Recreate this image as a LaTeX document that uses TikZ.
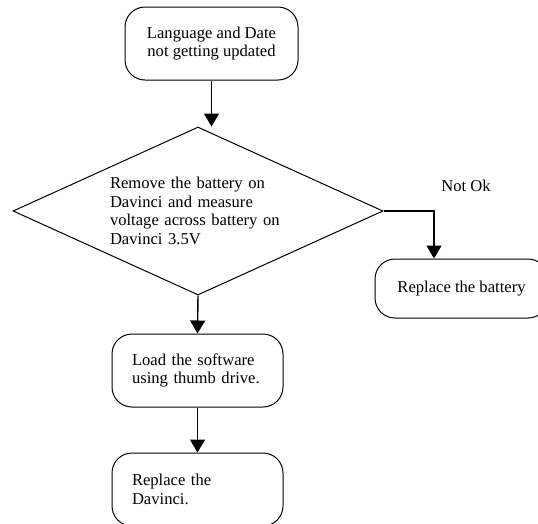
\documentclass[tikz,border=0pt]{standalone}
\usepackage{fontspec}
\setmainfont{Liberation Serif}
\usepackage{tikz}
\usetikzlibrary{arrows.meta,positioning,shapes.geometric}

\begin{document}
\begin{tikzpicture}[x=1pt,y=-1pt,font=\fontsize{16.6}{18.5}\selectfont,
  term/.style={draw,line width=1pt,rounded corners=20pt,inner sep=0pt},
  dia/.style={draw,line width=1pt,diamond,aspect=2.2,inner sep=0pt,
    minimum width=370,minimum height=168,text width=176,align=left},
  arr/.style={line width=1.4pt,-{Triangle[width=15pt,length=13pt]}}]
  \useasboundingbox (0,0) rectangle (538,523);
  % boxes
  \node[term,minimum width=173,minimum height=73,align=center] (issue) at (211.5,43.5)
    {Language and Date\\not getting updated};
  \node[dia] (batt) at (198,211)
    {Remove the battery on\\Davinci and measure\\voltage across battery on\\Davinci 3.5V};
  \node[term,minimum width=173,minimum height=59] (repbat) at (461.5,288.5) {Replace the battery};
  \node[term,minimum width=171,minimum height=73,text width=131,align=left] (load) at (197.5,370.5)
    {Load the software\\using thumb drive.};
  \node[term,minimum width=171,minimum height=73,text width=131,align=left] (swap) at (197.5,489.5)
    {Replace the\\Davinci.};
  % connectors
  \coordinate (nok) at (434,211);
  \node (nokl) at (466,186) {Not Ok};
  \draw[arr] (issue.south) -- (issue.south |- batt.north);
  \draw[arr] (batt.east) -| (nok |- repbat.north);
  \draw[arr] (batt.south) -- (load.north);
  \draw[arr] (load.south) -- (swap.north);
\end{tikzpicture}
\end{document}
